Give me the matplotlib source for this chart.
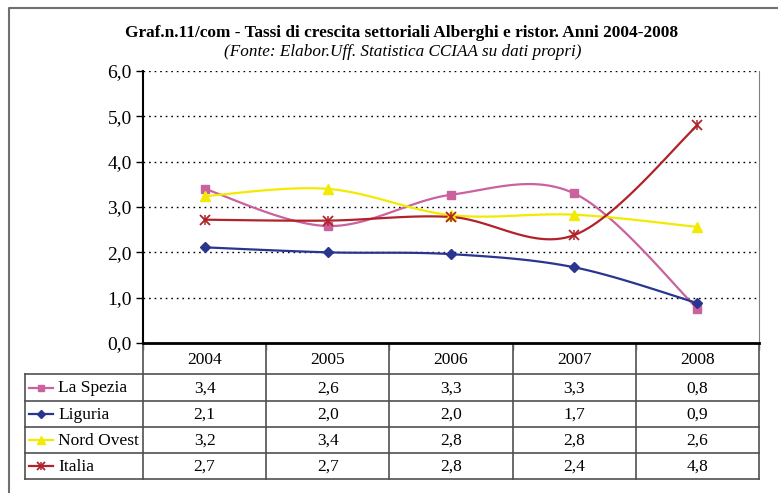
import matplotlib
matplotlib.use('Agg')
import matplotlib.pyplot as plt
import numpy as np

anni = ['2004', '2005', '2006', '2007', '2008']
serie = ['La Spezia', 'Liguria', 'Nord Ovest', 'Italia']
la_spezia = [3.40, 2.58, 3.27, 3.30, 0.76]
liguria = [2.11, 2.00, 1.96, 1.67, 0.88]
nord_ovest = [3.24, 3.40, 2.82, 2.83, 2.56]
italia = [2.72, 2.70, 2.78, 2.38, 4.80]
yticks = [0, 1, 2, 3, 4, 5, 6]

valori = [la_spezia, liguria, nord_ovest, italia]
colori = ['#C9629F', '#2A3590', '#F2EA00', '#B0232A']
marker = ['s', 'D', '^', 'x']
msize = [6, 5, 7, 7]

plt.rcParams['font.family'] = ['Liberation Serif', 'DejaVu Serif']

W, H = 778, 493
fig = plt.figure(figsize=(W / 100, H / 100), dpi=100)

# coordinate in pixel per la parte "tabella" e cornice
pad = fig.add_axes([0, 0, 1, 1])
pad.set_xlim(0, W)
pad.set_ylim(H, 0)
pad.axis('off')

# cornice esterna
pad.plot([9, 9, W + 5], [H + 5, 8, 8], color='#707070', lw=1.5, clip_on=False)

fig.text(402 / W, 1 - 33 / H, 'Graf.n.11/com - Tassi di crescita settoriali Alberghi e ristor. Anni 2004-2008',
         ha='center', va='center', fontsize=12.4, fontweight='bold')
fig.text(403 / W, 1 - 52 / H, '(Fonte: Elabor.Uff. Statistica CCIAA su dati propri)',
         ha='center', va='center', fontsize=12.3, style='italic')

x0, x1, ytop, ybot = 143, 759, 71, 343
ax = fig.add_axes([x0 / W, 1 - ybot / H, (x1 - x0) / W, (ybot - ytop) / H])


def smooth(y, n=30):
    # smoothing tipo Excel (Bezier con tangenti Catmull-Rom)
    x = np.arange(len(y)) + 0.5
    y = np.asarray(y, float)
    px = np.concatenate([[x[0]], x, [x[-1]]])
    py = np.concatenate([[y[0]], y, [y[-1]]])
    xs, ys = [], []
    t = np.linspace(0, 1, n)
    for i in range(len(y) - 1):
        p0 = np.array([x[i], y[i]])
        p3 = np.array([x[i + 1], y[i + 1]])
        p1 = p0 + (np.array([px[i + 2], py[i + 2]]) - np.array([px[i], py[i]])) / 6
        p2 = p3 - (np.array([px[i + 3], py[i + 3]]) - np.array([px[i + 1], py[i + 1]])) / 6
        b = ((1 - t) ** 3)[:, None] * p0 + (3 * (1 - t) ** 2 * t)[:, None] * p1 \
            + (3 * (1 - t) * t ** 2)[:, None] * p2 + (t ** 3)[:, None] * p3
        xs.append(b[:, 0])
        ys.append(b[:, 1])
    return np.concatenate(xs), np.concatenate(ys)


xp = np.arange(len(anni)) + 0.5
for v, c, m, s in zip(valori, colori, marker, msize):
    sx, sy = smooth(v)
    ax.plot(sx, sy, color=c, lw=1.6, zorder=3)
    ax.plot(xp, v, ls='none', marker=m, color=c, ms=s, mew=1.3 if m == 'x' else 1, zorder=4)
    if m == 'x':
        ax.plot(xp, v, ls='none', marker='|', color=c, ms=s, mew=1.1, zorder=4)

ax.set_xlim(0, 5)
ax.set_ylim(0, 6)
ax.set_yticks(yticks)
ax.set_yticklabels([f'{t:.1f}'.replace('.', ',') for t in yticks], fontsize=14)
ax.set_xticks(range(6))
ax.set_xticklabels([])
ax.tick_params(axis='y', direction='out', length=5, width=1, pad=3)
ax.tick_params(axis='x', direction='out', length=5, width=1, color='#606060')
ax.grid(axis='y', color='black', ls=(0, (1.2, 2.8)), lw=1)
ax.spines['top'].set_visible(False)
ax.spines['right'].set_color('#808080')
ax.spines['left'].set_linewidth(1.5)
ax.spines['bottom'].set_linewidth(2)

# tabella dati
righe = [343, 374, 401, 427, 453, 479]
colw = (x1 - x0) / len(anni)
cols = [x0 + i * colw for i in range(len(anni) + 1)]
gray = '#505050'
for yy in righe[1:]:
    pad.plot([25, x1], [yy, yy], color=gray, lw=1.2)
pad.plot([25, 25], [righe[1], righe[-1]], color=gray, lw=1.2)
for xx in cols:
    pad.plot([xx, xx], [righe[0], righe[-1]], color=gray, lw=1.2)
for j, a in enumerate(anni):
    pad.text(cols[j] + colw / 2, (righe[0] + righe[1]) / 2 + 1, a, ha='center', va='center', fontsize=12.5)
for i, (nome, v, c, m, s) in enumerate(zip(serie, valori, colori, marker, msize)):
    yc = (righe[i + 1] + righe[i + 2]) / 2
    pad.plot([29, 53], [yc, yc], color=c, lw=1.6)
    pad.plot([41], [yc], marker=m, color=c, ms=s - 1, mew=1.3 if m == 'x' else 1)
    if m == 'x':
        pad.plot([41], [yc], marker='|', color=c, ms=s - 1, mew=1.1)
    pad.text(58, yc + 1, nome, ha='left', va='center', fontsize=12.5)
    for j in range(len(anni)):
        pad.text(cols[j] + colw / 2, yc + 1, f'{v[j]:.1f}'.replace('.', ','),
                 ha='center', va='center', fontsize=12.5)

fig.savefig('out.png', dpi=100)
